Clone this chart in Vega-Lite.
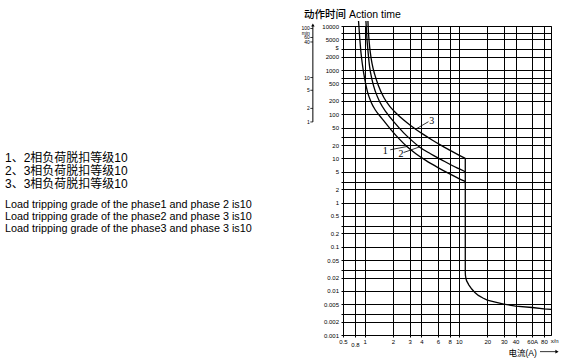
{
  "$schema": "https://vega.github.io/schema/vega-lite/v6.json",
  "width": 208,
  "height": 309,
  "autosize": {"type": "none"},
  "padding": {"left": 343, "top": 26, "right": 29, "bottom": 25},
  "background": "white",
  "config": {
    "font": "Liberation Sans",
    "view": {"stroke": "#000", "strokeWidth": 1},
    "axis": {
      "labelColor": "#000", "tickColor": "#000", "gridColor": "#000", "gridOpacity": 1, "gridWidth": 1,
      "domain": false, "labelFont": "Liberation Sans", "labelFontSize": 6, "labelOverlap": false,
      "labelFlush": false, "titleColor": "#000"
    }
  },
  "title": {
    "text": ["1、2相负荷脱扣等级10", "2、3相负荷脱扣等级10", "3、3相负荷脱扣等级10"],
    "subtitle": ["Load tripping grade of the phase1 and phase 2 is10", "Load tripping grade of the phase2 and phase 3 is10", "Load tripping grade of the phase3 and phase 3 is10"],
    "anchor": "start", "frame": "group", "orient": "top", "align": "left",
    "dx": -338, "dy": 226, "offset": 0,
    "font": "Liberation Sans, Noto Sans CJK SC", "fontSize": 12, "fontWeight": "normal", "color": "#000", "lineHeight": 13.3,
    "subtitleFont": "Liberation Sans", "subtitleFontSize": 10.8, "subtitleColor": "#000", "subtitleLineHeight": 12, "subtitlePadding": 8
  },
  "datasets": {
    "curves": [
      {"s": "1", "i": 0, "x": 0.862, "t": 13000},
      {"s": "1", "i": 1, "x": 0.87, "t": 10000}, {"s": "1", "i": 2, "x": 0.89, "t": 5000}, {"s": "1", "i": 3, "x": 0.91, "t": 2800},
      {"s": "1", "i": 4, "x": 0.95, "t": 1300}, {"s": "1", "i": 5, "x": 1.0, "t": 650}, {"s": "1", "i": 6, "x": 1.07, "t": 330},
      {"s": "1", "i": 7, "x": 1.17, "t": 190}, {"s": "1", "i": 8, "x": 1.3, "t": 125}, {"s": "1", "i": 9, "x": 1.53, "t": 80},
      {"s": "1", "i": 10, "x": 1.9, "t": 45}, {"s": "1", "i": 11, "x": 2.3, "t": 28.5}, {"s": "1", "i": 12, "x": 2.81, "t": 18.6},
      {"s": "1", "i": 13, "x": 3.5, "t": 12.8}, {"s": "1", "i": 14, "x": 4.5, "t": 8.9}, {"s": "1", "i": 15, "x": 6, "t": 6.2},
      {"s": "1", "i": 16, "x": 8, "t": 4.45}, {"s": "1", "i": 17, "x": 10, "t": 3.5}, {"s": "1", "i": 18, "x": 11.7, "t": 3},
      {"s": "2", "i": 0, "x": 1.033, "t": 13000},
      {"s": "2", "i": 1, "x": 1.04, "t": 10000}, {"s": "2", "i": 2, "x": 1.06, "t": 5000}, {"s": "2", "i": 3, "x": 1.09, "t": 2500},
      {"s": "2", "i": 4, "x": 1.13, "t": 1200}, {"s": "2", "i": 5, "x": 1.2, "t": 600}, {"s": "2", "i": 6, "x": 1.3, "t": 330},
      {"s": "2", "i": 7, "x": 1.45, "t": 190}, {"s": "2", "i": 8, "x": 1.7, "t": 110}, {"s": "2", "i": 9, "x": 2.1, "t": 63},
      {"s": "2", "i": 10, "x": 2.6, "t": 38}, {"s": "2", "i": 11, "x": 3.2, "t": 25}, {"s": "2", "i": 12, "x": 3.82, "t": 18.2},
      {"s": "2", "i": 13, "x": 5, "t": 12.8}, {"s": "2", "i": 14, "x": 6.5, "t": 9.4}, {"s": "2", "i": 15, "x": 8.5, "t": 6.9},
      {"s": "2", "i": 16, "x": 10, "t": 5.85}, {"s": "2", "i": 17, "x": 11.7, "t": 5},
      {"s": "3", "i": 0, "x": 1.085, "t": 13000},
      {"s": "3", "i": 1, "x": 1.09, "t": 10000}, {"s": "3", "i": 2, "x": 1.1, "t": 7000}, {"s": "3", "i": 3, "x": 1.12, "t": 4200},
      {"s": "3", "i": 4, "x": 1.15, "t": 2500}, {"s": "3", "i": 5, "x": 1.2, "t": 1400}, {"s": "3", "i": 6, "x": 1.28, "t": 800},
      {"s": "3", "i": 7, "x": 1.4, "t": 450}, {"s": "3", "i": 8, "x": 1.6, "t": 240}, {"s": "3", "i": 9, "x": 1.85, "t": 151},
      {"s": "3", "i": 10, "x": 2.15, "t": 107}, {"s": "3", "i": 11, "x": 2.6, "t": 74}, {"s": "3", "i": 12, "x": 3.1, "t": 55},
      {"s": "3", "i": 13, "x": 3.48, "t": 46}, {"s": "3", "i": 14, "x": 4.2, "t": 35}, {"s": "3", "i": 15, "x": 5.2, "t": 26.2},
      {"s": "3", "i": 16, "x": 6.5, "t": 19.7}, {"s": "3", "i": 17, "x": 8, "t": 15.4}, {"s": "3", "i": 18, "x": 10, "t": 11.9},
      {"s": "3", "i": 19, "x": 11.7, "t": 10},
      {"s": "v", "i": 1, "x": 11.7, "t": 10}, {"s": "v", "i": 2, "x": 11.7, "t": 0.0265}, {"s": "v", "i": 3, "x": 11.75, "t": 0.022},
      {"s": "v", "i": 4, "x": 11.9, "t": 0.019}, {"s": "v", "i": 5, "x": 12.1, "t": 0.0168}, {"s": "v", "i": 6, "x": 12.8, "t": 0.0135},
      {"s": "v", "i": 7, "x": 13.7, "t": 0.011}, {"s": "v", "i": 8, "x": 14.8, "t": 0.0092}, {"s": "v", "i": 9, "x": 16.1, "t": 0.0079},
      {"s": "v", "i": 10, "x": 18, "t": 0.0069}, {"s": "v", "i": 11, "x": 20, "t": 0.0062}, {"s": "v", "i": 12, "x": 25, "t": 0.0055},
      {"s": "v", "i": 13, "x": 30, "t": 0.005}, {"s": "v", "i": 14, "x": 40, "t": 0.0045}, {"s": "v", "i": 15, "x": 60, "t": 0.0042},
      {"s": "v", "i": 16, "x": 80, "t": 0.0039}, {"s": "v", "i": 17, "x": 95, "t": 0.0038}
    ],
    "minutes": [
      {"lab": "100", "t": 8780}, {"lab": "min", "t": 6944}, {"lab": "60", "t": 5493}, {"lab": "40", "t": 4345},
      {"lab": "10", "t": 680}, {"lab": "5", "t": 350}, {"lab": "2", "t": 136}, {"lab": "1", "t": 67}
    ],
    "callouts": [
      {"lab": "1", "tx": 1.66, "ty": 15.1, "x": 1.87, "t": 15.7, "x2": 2.81, "t2": 18.6},
      {"lab": "2", "tx": 2.43, "ty": 12.7, "x": 2.59, "t": 13.6, "x2": 3.82, "t2": 18.2},
      {"lab": "3", "tx": 5.17, "ty": 72, "x": 4.76, "t": 68, "x2": 3.48, "t2": 46}
    ]
  },
  "layer": [
    {
      "data": {"name": "curves"},
      "transform": [{"filter": "datum.s != 'v'"}],
      "mark": {"type": "line", "color": "#000", "strokeWidth": 1.3, "interpolate": "monotone", "clip": false},
      "encoding": {
        "x": {
          "field": "x", "type": "quantitative",
          "scale": {"type": "log", "domain": [0.59, 95], "nice": false},
          "axis": {
            "values": [0.59, 0.8, 1, 2, 3, 4, 6, 8, 10, 20, 30, 40, 60, 80],
            "labelExpr": "datum.value == 0.59 ? '0.5' : datum.value == 0.8 ? '' : datum.value == 60 ? '60A' : format(datum.value, '~g')",
            "grid": true, "tickSize": 2, "labelPadding": 1.5,
            "title": "电流(A)", "titleFont": "Liberation Sans, Noto Sans CJK SC", "titleFontSize": 8.5, "titleFontWeight": "normal",
            "titleX": 165, "titleY": 17, "titleAlign": "left", "titleBaseline": "middle"
          }
        },
        "y": {
          "field": "t", "type": "quantitative",
          "scale": {"type": "log", "domain": [0.001, 10000], "nice": false},
          "axis": {
            "values": [10000, 6800, 5000, 3000, 2000, 1000, 680, 500, 300, 200, 100, 50, 30, 20, 10, 5, 3, 2, 1, 0.5, 0.3, 0.2, 0.1, 0.05, 0.03, 0.02, 0.01, 0.005, 0.003, 0.002, 0.001],
            "labelExpr": "indexof([6800, 3000, 680, 300, 30, 3, 0.3, 0.03, 0.003], datum.value) >= 0 ? '' : format(datum.value, '~g')",
            "grid": true, "tickSize": 2, "labelPadding": 2.5,
            "title": "动作时间 Action time", "titleFont": "Liberation Sans, Noto Sans CJK SC", "titleFontSize": 10.5, "titleFontWeight": 500,
            "titleAngle": 0, "titleAlign": "left", "titleBaseline": "alphabetic", "titleX": -39.5, "titleY": -9
          }
        },
        "detail": {"field": "s"},
        "order": {"field": "i", "type": "quantitative"}
      }
    },
    {
      "data": {"name": "curves"},
      "transform": [{"filter": "datum.s == 'v'"}],
      "mark": {"type": "line", "color": "#000", "strokeWidth": 1.3, "clip": true},
      "encoding": {
        "x": {"field": "x", "type": "quantitative"},
        "y": {"field": "t", "type": "quantitative"},
        "order": {"field": "i", "type": "quantitative"}
      }
    },
    {
      "data": {"name": "callouts"},
      "mark": {"type": "rule", "color": "#000", "strokeWidth": 0.8},
      "encoding": {
        "x": {"field": "x", "type": "quantitative"},
        "y": {"field": "t", "type": "quantitative"},
        "x2": {"field": "x2"},
        "y2": {"field": "t2"}
      }
    },
    {
      "data": {"name": "callouts"},
      "mark": {"type": "text", "font": "Liberation Serif", "fontSize": 10, "color": "#000", "align": "center", "baseline": "middle"},
      "encoding": {
        "x": {"field": "tx", "type": "quantitative"},
        "y": {"field": "ty", "type": "quantitative"},
        "text": {"field": "lab"}
      }
    },
    {
      "data": {"name": "minutes"},
      "transform": [{"filter": "datum.lab != 'min'"}],
      "mark": {"type": "rule", "color": "#000", "strokeWidth": 0.8, "clip": false},
      "encoding": {
        "x": {"datum": 0.2656, "type": "quantitative"},
        "x2": {"datum": 0.2826},
        "y": {"field": "t", "type": "quantitative"}
      }
    },
    {
      "data": {"name": "minutes"},
      "mark": {"type": "text", "fontSize": 5, "color": "#000", "align": "right", "baseline": "middle", "clip": false},
      "encoding": {
        "x": {"datum": 0.2625, "type": "quantitative"},
        "y": {"field": "t", "type": "quantitative"},
        "text": {"field": "lab"}
      }
    },
    {
      "data": {"values": [{"t": 67, "t2": 10000}]},
      "mark": {"type": "rule", "color": "#000", "strokeWidth": 1, "clip": false},
      "encoding": {
        "x": {"datum": 0.2826, "type": "quantitative"},
        "y": {"field": "t", "type": "quantitative"},
        "y2": {"field": "t2"}
      }
    },
    {
      "data": {"values": [{"t": 10600}]},
      "mark": {"type": "point", "shape": "triangle-up", "filled": true, "color": "#000", "size": 12, "opacity": 1, "clip": false},
      "encoding": {
        "x": {"datum": 0.2826, "type": "quantitative"},
        "y": {"field": "t", "type": "quantitative"}
      }
    },
    {
      "data": {"values": [{"lab": "s", "t": 3180}]},
      "mark": {"type": "text", "fontSize": 6.5, "color": "#000", "align": "center", "baseline": "middle", "clip": false},
      "encoding": {
        "x": {"datum": 0.51, "type": "quantitative"},
        "y": {"field": "t", "type": "quantitative"},
        "text": {"field": "lab"}
      }
    },
    {
      "data": {"values": [{"lab": "0.8", "x": 0.8, "t": 0.00059}, {"lab": "x/n", "x": 104, "t": 0.000746}]},
      "mark": {"type": "text", "fontSize": 6, "color": "#000", "align": "center", "baseline": "middle", "clip": false},
      "encoding": {
        "x": {"field": "x", "type": "quantitative"},
        "y": {"field": "t", "type": "quantitative"},
        "text": {"field": "lab"}
      }
    },
    {
      "data": {"values": [{"x": 72.6, "x2": 107, "t": 0.00042}]},
      "mark": {"type": "rule", "color": "#000", "strokeWidth": 0.8, "clip": false},
      "encoding": {
        "x": {"field": "x", "type": "quantitative"},
        "x2": {"field": "x2"},
        "y": {"field": "t", "type": "quantitative"}
      }
    },
    {
      "data": {"values": [{"x": 110, "t": 0.00042}]},
      "mark": {"type": "point", "shape": "triangle-right", "filled": true, "color": "#000", "size": 14, "opacity": 1, "clip": false},
      "encoding": {
        "x": {"field": "x", "type": "quantitative"},
        "y": {"field": "t", "type": "quantitative"}
      }
    }
  ]
}
